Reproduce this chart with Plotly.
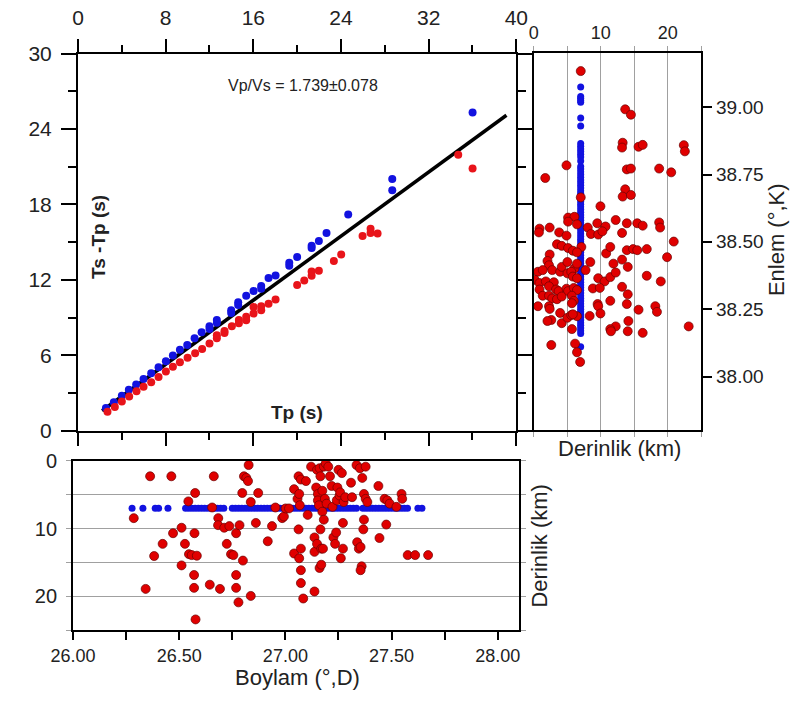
import plotly.graph_objects as go

W, H = 806, 704
FONT = "Arial, Liberation Sans, sans-serif"

# ---------------- Wadati diagram (Tp vs Ts-Tp) ----------------
blue_tp = [2.55, 3.27, 4.00, 4.64, 5.31, 5.98, 6.68, 7.35, 8.02, 8.66, 9.30, 9.97, 10.64, 11.28,
           12.00, 12.00, 12.67, 12.67, 13.98, 13.98, 14.62, 14.62, 15.35, 16.02, 16.72, 16.72,
           17.39, 18.03, 19.28, 19.28, 20.00, 21.32, 21.32, 21.98, 22.68, 24.66, 28.68, 28.68, 36.01]
blue_tstp = [1.82, 2.28, 2.79, 3.26, 3.69, 4.13, 4.59, 5.05, 5.54, 6.00, 6.44, 6.82, 7.36, 7.85,
             8.31, 8.10, 8.82, 8.60, 9.59, 9.38, 10.23, 10.00, 10.74, 11.13, 11.51, 11.30,
             12.15, 12.36, 13.36, 13.12, 13.82, 14.72, 14.55, 15.10, 15.74, 17.21, 19.13, 20.03, 25.31]
red_tp = [2.69, 3.36, 4.00, 4.67, 5.34, 5.98, 6.68, 7.35, 8.02, 8.66, 9.30, 10.00, 10.69, 11.33,
          12.00, 12.67, 12.67, 13.37, 13.37, 14.04, 14.68, 14.68, 15.35, 15.35, 16.02, 16.02,
          16.72, 16.72, 17.39, 18.03, 20.00, 20.65, 21.32, 21.32, 21.98, 23.35, 24.02, 25.97,
          26.70, 26.70, 27.34, 34.70, 36.01]
red_tstp = [1.51, 1.90, 2.33, 2.74, 3.15, 3.51, 3.87, 4.28, 4.72, 5.10, 5.46, 5.82, 6.18, 6.51,
            6.95, 7.36, 7.60, 7.79, 7.95, 8.31, 8.82, 8.55, 9.08, 8.80, 9.33, 9.85,
            9.59, 9.90, 10.10, 10.44, 11.59, 11.95, 12.33, 12.67, 12.74, 13.51, 14.03, 15.49,
            15.74, 16.08, 15.69, 21.95, 20.87]
fit_tp = [2.2, 39.1]
fit_tstp = [1.6, 25.1]
vpvs_text = "Vp/Vs = 1.739\u00b10.078"

# ---------------- Depth vs latitude (right panel) ----------------
fixed_depth_km = 7.0
blue_lat = [39.075, 39.04, 39.033, 39.025, 39.018, 38.96, 38.93, 38.865, 38.855, 38.845, 38.835,
            38.825, 38.815, 38.80, 38.78, 38.77, 38.76, 38.75, 38.74, 38.73, 38.72, 38.71, 38.70,
            38.69, 38.68, 38.67, 38.66, 38.65, 38.64, 38.63, 38.62, 38.61, 38.60, 38.59, 38.58,
            38.57, 38.56, 38.55, 38.54, 38.53, 38.52, 38.51, 38.50, 38.49, 38.48, 38.47, 38.46,
            38.45, 38.44, 38.43, 38.42, 38.41, 38.40, 38.39, 38.38, 38.37, 38.36, 38.35, 38.34,
            38.33, 38.32, 38.31, 38.30, 38.29, 38.28, 38.27, 38.26, 38.25, 38.24, 38.23, 38.22,
            38.21, 38.20, 38.19, 38.18, 38.17, 38.16, 38.11]
red_dep_r = [7.01, 13.65, 14.5, 13.27, 13.18, 15.64, 16.26, 22.4, 22.56, 4.88, 1.71, 13.89, 14.5,
             18.72, 20.52, 13.65, 13.27, 14.5, 7.01, 9.95, 5.12, 6.07, 5.12, 6.45, 2.37, 8.06,
             9.48, 10.71, 12.23, 13.89, 15.45, 16.26, 18.72, 18.86, 3.79, 4.88, 0.85, 0.76, 8.53,
             9.62, 10.24, 13.18, 3.46, 4.17, 5.12, 7.1, 5.83, 13.89, 14.83, 15.45, 16.87, 20.9,
             19.9, 10.8, 11.42, 2.37, 2.04, 2.27, 0.62, 1.33, 2.75, 3.93, 4.17, 5.02, 6.07, 6.45,
             7.73, 8.44, 6.45, 5.02, 5.59, 5.83, 6.45, 9.62, 10.57, 11.42, 11.89, 12.23, 14.03,
             13.18, 16.87, 18.96, 0.14, 0.85, 1.8, 2.99, 2.27, 0.85, 3.32, 3.7, 4.88, 5.12, 5.97,
             6.45, 8.82, 9.86, 13.18, 1.33, 2.27, 2.75, 3.46, 4.17, 5.69, 5.97, 5.69, 0.62, 2.27,
             2.37, 9.53, 9.62, 11.42, 14.03, 13.89, 15.64, 18.15, 18.39, 3.93, 2.61, 2.04, 4.17,
             5.02, 5.59, 6.45, 5.83, 9.95, 8.34, 14.12, 12.23, 11.42, 11.52, 14.03, 16.26, 23.13,
             5.69, 2.61, 6.16, 6.45, 6.92]
red_lat_r = [39.134, 38.992, 38.972, 38.868, 38.85, 38.853, 38.86, 38.859, 38.836, 38.784, 38.737,
             38.769, 38.772, 38.772, 38.758, 38.695, 38.668, 38.674, 38.665, 38.632, 38.59, 38.593,
             38.575, 38.565, 38.553, 38.553, 38.569, 38.557, 38.581, 38.569, 38.569, 38.56, 38.572,
             38.553, 38.535, 38.523, 38.549, 38.535, 38.529, 38.527, 38.539, 38.533, 38.491,
             38.485, 38.477, 38.481, 38.467, 38.469, 38.473, 38.469, 38.473, 38.501, 38.443,
             38.457, 38.481, 38.453, 38.429, 38.413, 38.389, 38.395, 38.395, 38.389, 38.407,
             38.425, 38.401, 38.419, 38.395, 38.425, 38.461, 38.383, 38.389, 38.371, 38.365,
             38.365, 38.353, 38.369, 38.419, 38.386, 38.407, 38.434, 38.374, 38.353, 38.359,
             38.347, 38.353, 38.35, 38.335, 38.323, 38.323, 38.317, 38.326, 38.317, 38.329, 38.321,
             38.327, 38.329, 38.333, 38.3, 38.3, 38.29, 38.287, 38.297, 38.3, 38.281, 38.272,
             38.261, 38.261, 38.251, 38.269, 38.261, 38.281, 38.305, 38.269, 38.248, 38.261,
             38.24, 38.236, 38.21, 38.206, 38.198, 38.218, 38.228, 38.224, 38.231, 38.234, 38.225,
             38.206, 38.186, 38.176, 38.168, 38.168, 38.162, 38.186, 38.176, 38.117, 38.122,
             38.09, 38.054]

# ---------------- Longitude vs depth (bottom panel) ----------------
blue_lon = [26.278, 26.329, 26.387, 26.403, 26.447, 26.53, 26.545, 26.56, 26.575, 26.59, 26.605,
            26.62, 26.635, 26.65, 26.665, 26.68, 26.695, 26.71, 26.75, 26.765, 26.78, 26.795,
            26.81, 26.825, 26.84, 26.855, 26.87, 26.885, 26.9, 26.915, 26.93, 26.945, 26.96,
            26.975, 26.99, 27.005, 27.02, 27.035, 27.05, 27.065, 27.08, 27.095, 27.11, 27.125,
            27.14, 27.155, 27.17, 27.185, 27.2, 27.215, 27.23, 27.245, 27.26, 27.275, 27.29,
            27.305, 27.32, 27.335, 27.365, 27.38, 27.395, 27.41, 27.425, 27.44, 27.455, 27.47,
            27.485, 27.5, 27.515, 27.53, 27.545, 27.56, 27.575, 27.624, 27.643]
red_lon_b = [26.286, 26.363, 26.463, 26.342, 26.382, 26.422, 26.471, 26.511, 26.511, 26.527,
             26.543, 26.546, 26.559, 26.572, 26.575, 26.583, 26.570, 26.570, 26.577, 26.644,
             26.663, 26.655, 26.684, 26.683, 26.692, 26.712, 26.724, 26.736, 26.744, 26.755,
             26.768, 26.768, 26.768, 26.779, 26.784, 26.797, 26.8, 26.805, 26.816, 26.824, 26.827,
             26.837, 26.837, 26.861, 26.872, 26.917, 26.937, 26.953, 26.985, 26.993, 27.001,
             27.017, 27.041, 27.041, 27.057, 27.062, 27.062, 27.065, 27.065, 27.068, 27.073,
             27.073, 27.073, 27.073, 27.084, 27.097, 27.105, 27.121, 27.137, 27.137, 27.137,
             27.145, 27.149, 27.149, 27.153, 27.153, 27.158, 27.161, 27.161, 27.165, 27.165,
             27.169, 27.169, 27.174, 27.174, 27.177, 27.181, 27.181, 27.186, 27.19, 27.194,
             27.202, 27.21, 27.218, 27.222, 27.226, 27.234, 27.239, 27.242, 27.245, 27.25, 27.255,
             27.258, 27.266, 27.271, 27.271, 27.261, 27.274, 27.282, 27.309, 27.314, 27.335,
             27.338, 27.346, 27.351, 27.354, 27.359, 27.354, 27.362, 27.367, 27.37, 27.37, 27.378,
             27.378, 27.386, 27.438, 27.443, 27.467, 27.475, 27.48, 27.491, 27.523, 27.547,
             27.55, 27.576, 27.611, 27.672]
red_dep_b = [8.46, 2.28, 2.28, 18.91, 14.06, 12.26, 10.69, 9.88, 15.44, 12.26, 5.99, 13.78, 13.92,
             10.69, 4.75, 14.01, 16.86, 18.76, 23.42, 18.29, 2.28, 6.89, 8.46, 9.50, 18.91, 9.88,
             12.26, 9.64, 13.78, 13.92, 10.69, 16.86, 18.76, 20.90, 9.50, 4.75, 14.73, 2.28, 2.52,
             2.99, 0.62, 6.08, 19.95, 9.17, 4.75, 11.88, 9.64, 6.89, 8.46, 8.22, 7.03, 7.03, 4.18,
             13.68, 5.61, 2.28, 10.12, 4.89, 14.39, 6.56, 2.76, 12.97, 16.15, 18.05, 20.33, 2.99,
             7.98, 0.86, 11.31, 13.44, 19.29, 3.94, 1.33, 12.26, 4.89, 5.84, 6.56, 1.09, 15.82,
             2.28, 10.12, 12.97, 15.34, 4.42, 7.51, 12.97, 0.86, 8.69, 5.61, 0.38, 6.32, 0.86,
             2.28, 3.71, 6.79, 11.31, 12.26, 10.59, 5.84, 3.94, 1.33, 5.13, 4.66, 1.81, 9.17,
             12.97, 14.39, 6.08, 5.37, 3.23, 5.37, 0.62, 12.02, 12.97, 1.09, 12.73, 15.58, 16.15,
             2.52, 10.12, 8.69, 4.89, 0.86, 5.61, 6.08, 3.71, 11.40, 5.61, 9.41, 5.84, 6.32, 6.79,
             4.89, 5.61, 13.92, 13.92, 13.92]

lat_ticks = [38.00, 38.25, 38.50, 38.75, 39.00]
lon_ticks = [26.00, 26.25, 26.50, 26.75, 27.00, 27.25, 27.50, 27.75, 28.00]
lon_labels = ["26.00", "", "26.50", "", "27.00", "", "27.50", "", "28.00"]
dep_ticks = [0, 5, 10, 15, 20, 25]
dep_labels = ["0", "", "10", "", "20", ""]

BLUE = "#1212e0"
RED = "#e8141a"
RED_DOT = "#e00000"
RED_EDGE = "#6a0000"
GRID = "#a0a0a0"
TXT = "#222222"


def px_x(px):
    return px / W


def px_y(py):
    return 1 - py / H


fig = go.Figure()

# Wadati
fig.add_trace(go.Scatter(x=fit_tp, y=fit_tstp, mode="lines", line=dict(color="black", width=3.5),
                         xaxis="x", yaxis="y", showlegend=False))
fig.add_trace(go.Scatter(x=blue_tp, y=blue_tstp, mode="markers",
                         marker=dict(color=BLUE, size=8), xaxis="x", yaxis="y", showlegend=False))
fig.add_trace(go.Scatter(x=red_tp, y=red_tstp, mode="markers",
                         marker=dict(color=RED, size=8), xaxis="x", yaxis="y", showlegend=False))

# Right panel
fig.add_trace(go.Scatter(x=[fixed_depth_km for _ in blue_lat], y=blue_lat, mode="markers",
                         marker=dict(color=BLUE, size=7), xaxis="x2", yaxis="y2", showlegend=False))
fig.add_trace(go.Scatter(x=red_dep_r, y=red_lat_r, mode="markers",
                         marker=dict(color=RED_DOT, size=9, line=dict(color=RED_EDGE, width=0.7)),
                         xaxis="x2", yaxis="y2", showlegend=False))

# Bottom panel
fig.add_trace(go.Scatter(x=blue_lon, y=[fixed_depth_km for _ in blue_lon], mode="markers",
                         marker=dict(color=BLUE, size=7), xaxis="x3", yaxis="y3", showlegend=False))
fig.add_trace(go.Scatter(x=red_lon_b, y=red_dep_b, mode="markers",
                         marker=dict(color=RED_DOT, size=9, line=dict(color=RED_EDGE, width=0.7)),
                         xaxis="x3", yaxis="y3", showlegend=False))

frame = dict(showline=True, linecolor="black", linewidth=2, zeroline=False)

fig.update_layout(
    width=W, height=H, margin=dict(l=0, r=0, t=0, b=0),
    paper_bgcolor="white", plot_bgcolor="white",
    font=dict(family=FONT, color=TXT),
    # main panel
    xaxis=dict(domain=[px_x(57.5), px_x(515.7)], range=[0, 40], side="top", anchor="y",
               tickmode="linear", tick0=0, dtick=8, ticks="outside", ticklen=13, tickwidth=1.5,
               tickcolor="black", mirror="ticks", showgrid=False, ticklabelstandoff=5,
               minor=dict(dtick=4, ticklen=7, tickwidth=1.5, tickcolor="black", ticks="outside", showgrid=False),
               tickfont=dict(size=21, color=TXT), **frame),
    yaxis=dict(domain=[px_y(433), px_y(43)], range=[0, 30], anchor="x",
               tickmode="linear", tick0=0, dtick=6, ticks="outside", ticklen=15, tickwidth=1.5,
               tickcolor="black", mirror="ticks", showgrid=False, ticklabelstandoff=5,
               minor=dict(dtick=3, ticklen=8, tickwidth=1.5, tickcolor="black", ticks="outside", showgrid=False),
               tickfont=dict(size=21, color=TXT), **frame),
    # right panel
    xaxis2=dict(domain=[px_x(534), px_x(709)], range=[0, 25], side="top", anchor="y2",
                tickvals=dep_ticks, ticktext=dep_labels, ticks="outside", ticklen=5, tickwidth=1,
                tickcolor=GRID, mirror="ticks", showgrid=True, gridcolor=GRID, gridwidth=1,
                tickfont=dict(size=18, color=TXT), **frame),
    yaxis2=dict(domain=[px_y(432.5), px_y(42.7)], range=[37.8, 39.2], side="right", anchor="x2",
                tickvals=lat_ticks, tickformat=".2f", ticks="outside", ticklen=9, tickwidth=1.5,
                tickcolor="black", mirror=True, showgrid=False,
                tickfont=dict(size=19, color=TXT), **frame),
    # bottom panel
    xaxis3=dict(domain=[px_x(52.3), px_x(518.5)], range=[26.0, 28.1], anchor="y3",
                tickvals=lon_ticks, ticktext=lon_labels, ticks="outside", ticklen=8, tickwidth=1.5,
                tickcolor="black", mirror=True, showgrid=False,
                tickfont=dict(size=18, color=TXT), **frame),
    yaxis3=dict(domain=[px_y(639), px_y(464)], range=[25, 0], anchor="x3",
                tickvals=dep_ticks, ticktext=dep_labels, ticks="outside", ticklen=5, tickwidth=1,
                tickcolor=GRID, mirror="ticks", showgrid=True, gridcolor=GRID, gridwidth=1,
                ticklabelstandoff=5, tickfont=dict(size=20, color=TXT), **frame),
)

ann = [
    dict(text=vpvs_text, x=px_x(293), y=px_y(76), font=dict(size=16, color=TXT)),
    dict(text="<b>Ts -Tp (s)</b>", x=px_x(79), y=px_y(233), textangle=-90, font=dict(size=19, color=TXT)),
    dict(text="<b>Tp (s)</b>", x=px_x(286), y=px_y(414), font=dict(size=19, color=TXT)),
    dict(text="Derinlik (km)", x=px_x(624), y=px_y(451), font=dict(size=22, color=TXT)),
    dict(text="Enlem (\u00b0,K)", x=px_x(788), y=px_y(235), textangle=-90, font=dict(size=22, color=TXT)),
    dict(text="Derinlik (km)", x=px_x(540), y=px_y(552), textangle=-90, font=dict(size=22, color=TXT)),
    dict(text="Boylam (\u00b0,D)", x=px_x(287), y=px_y(688), font=dict(size=22, color=TXT)),
]
for a in ann:
    a.update(xref="paper", yref="paper", showarrow=False, xanchor="center", yanchor="middle")
fig.update_layout(annotations=ann)

fig.write_html("out.html")
